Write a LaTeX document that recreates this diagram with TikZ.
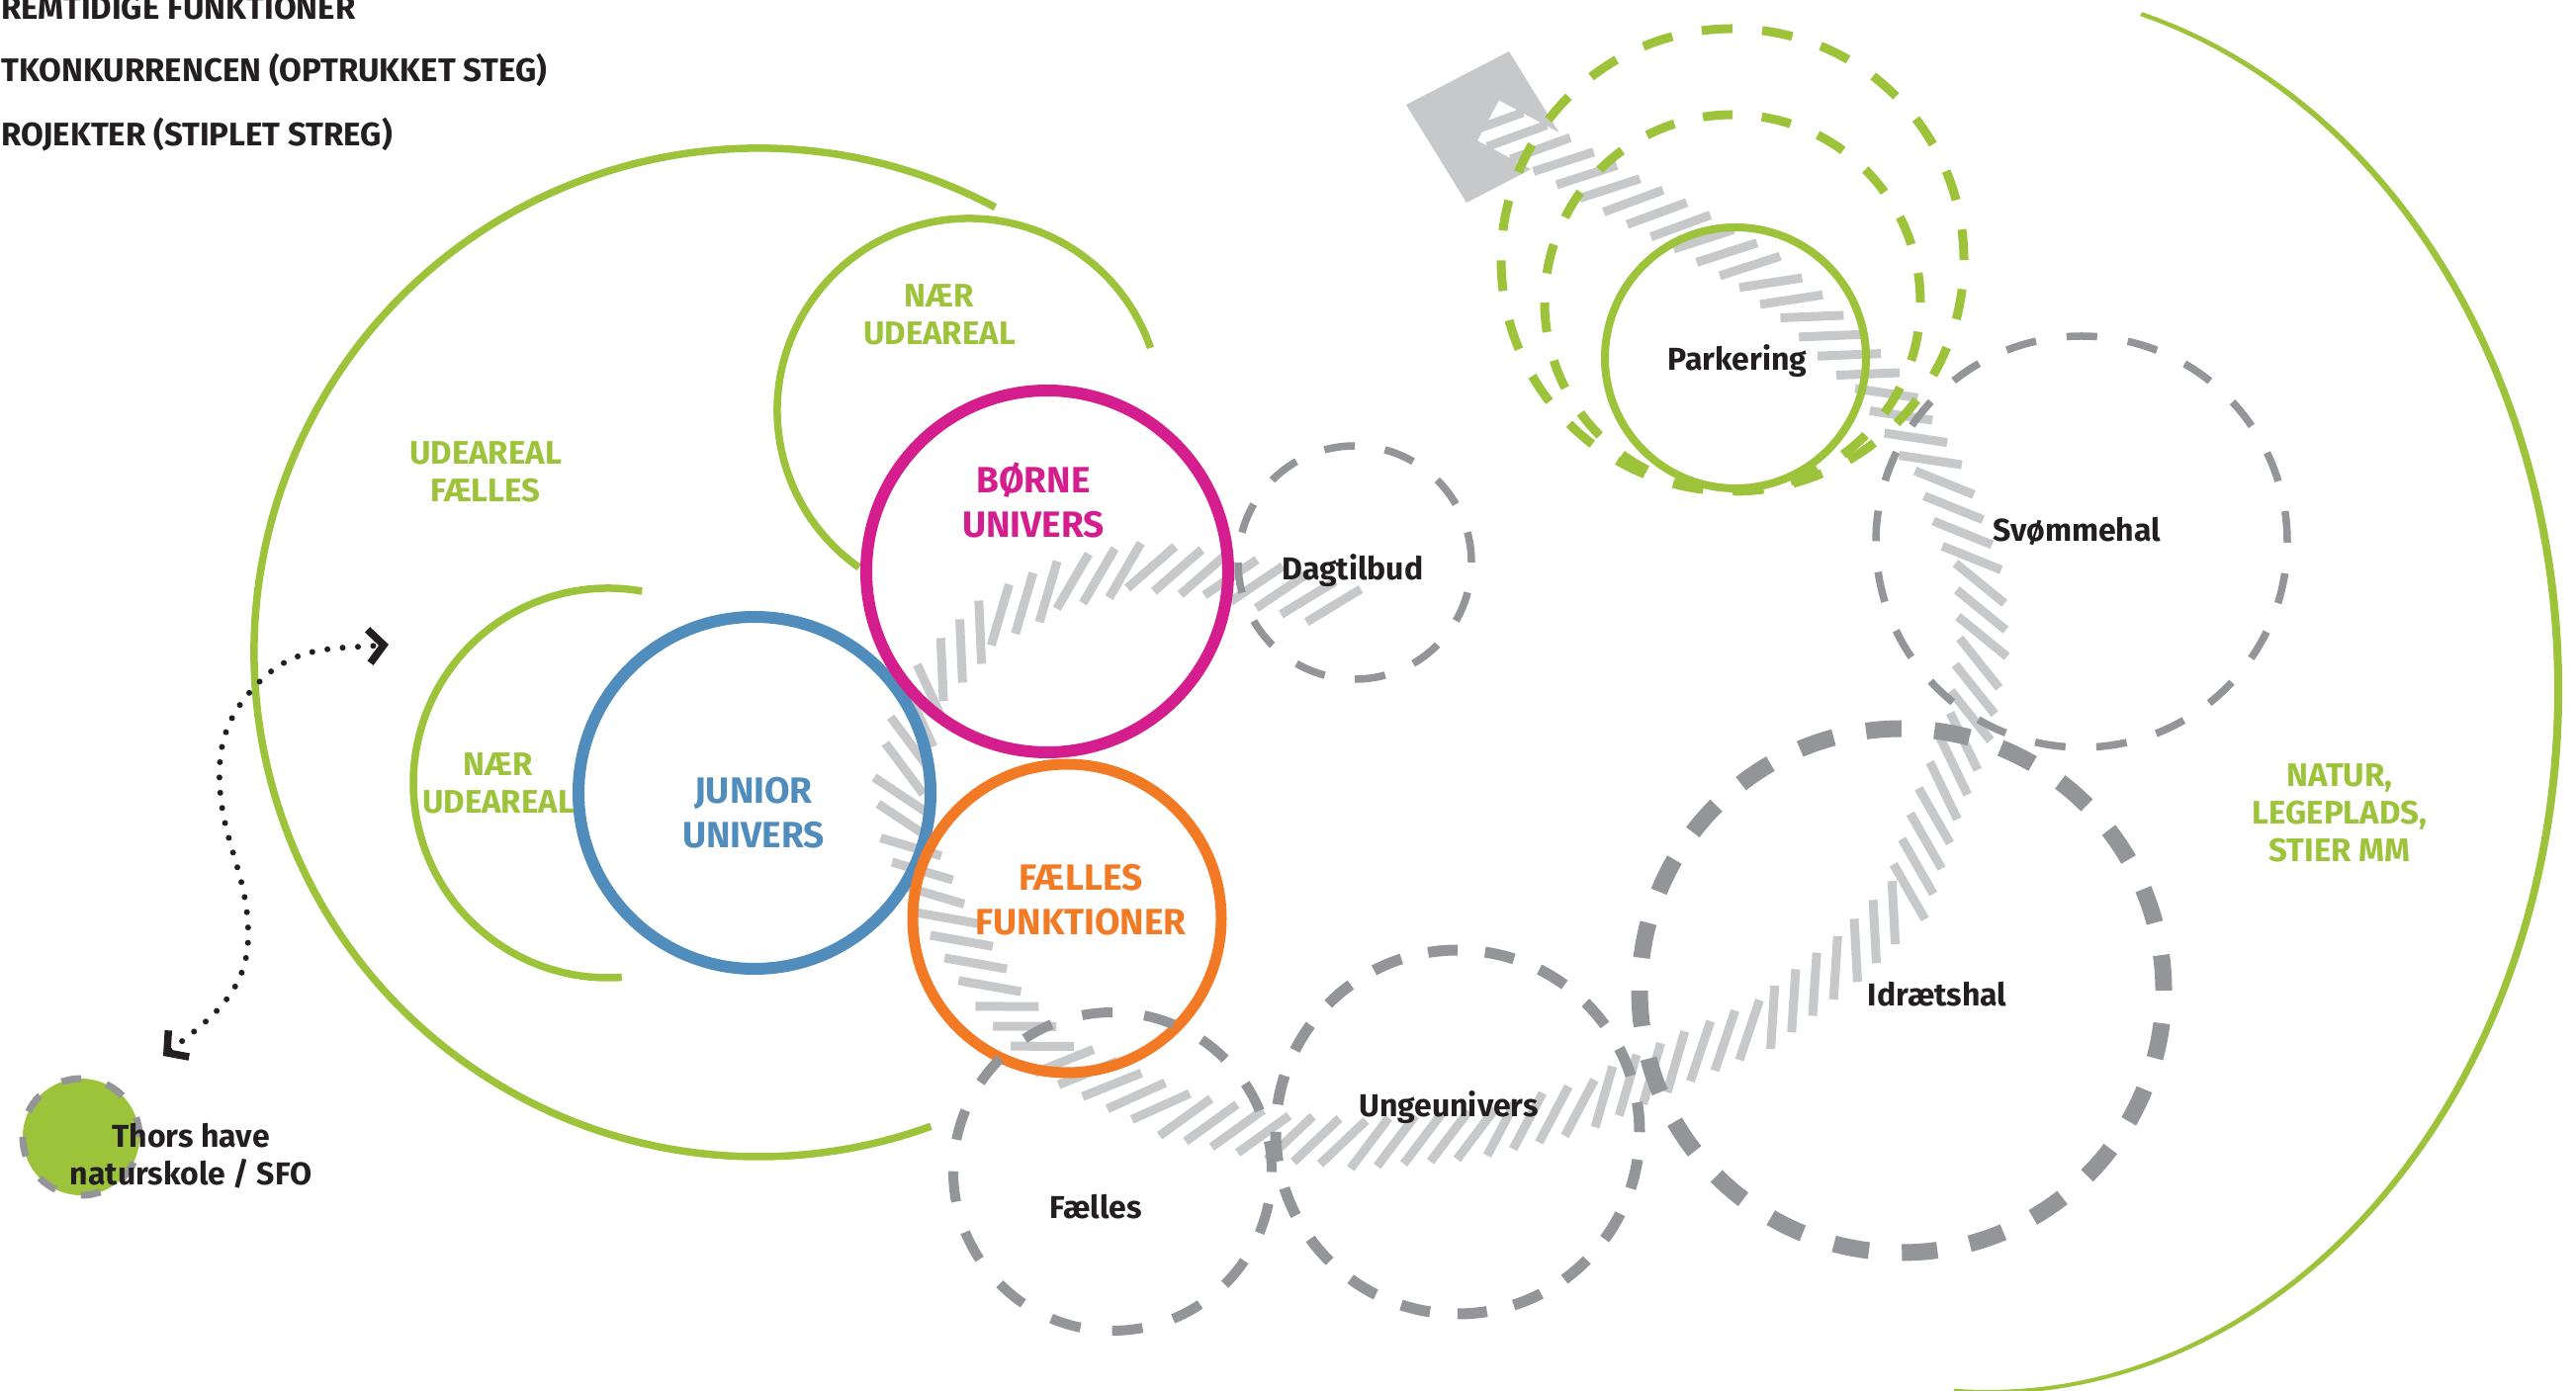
\documentclass[tikz,border=0pt]{standalone}
\usepackage{fontspec}
\setmainfont{Fira Sans}
\usetikzlibrary{arrows.meta,decorations.markings,calc}

\definecolor{leafgreen}{RGB}{157,195,59}
\definecolor{borneviolet}{RGB}{213,30,142}
\definecolor{juniorblue}{RGB}{80,141,188}
\definecolor{faellesorange}{RGB}{242,122,36}
\definecolor{ringgray}{RGB}{147,149,152}
\definecolor{bargray}{RGB}{199,200,202}
\definecolor{inkblack}{RGB}{35,31,32}

\tikzstyle{every node}=[inner sep=0pt,text=inkblack]
\tikzset{
  ring/.style={circle,draw=#1,minimum size=0pt},
  greenline/.style={draw=leafgreen,line width=7.5pt},
  bigzone/.style={font=\bfseries\fontsize{37}{45}\selectfont,align=center},
  greenzone/.style={font=\bfseries\fontsize{33}{38}\selectfont,align=center,text=leafgreen},
  place/.style={font=\bfseries\fontsize{32}{38}\selectfont,anchor=base},
  legend/.style={font=\bfseries\fontsize{33}{38}\selectfont,anchor=base west},
  dotway/.style={draw=inkblack,line width=6pt,line cap=round,dash pattern=on 0pt off 15.5pt},
  barb/.tip={Straight Barb[length=15pt,width=34pt,line width=7.5pt]},
  hatch/.style={postaction={decorate,decoration={markings,
      mark=between positions 0.002 and 0.998 step 2.7pt with
      {\draw[bargray,line width=0.9pt] (-2.14pt,-2.38pt) -- (2.14pt,2.38pt);}}}}
}

\begin{document}
\begin{tikzpicture}[x=1pt,y=1pt]
\useasboundingbox (0,0) rectangle (2605,1406);
\fill[white] (0,0) rectangle (2605,1406);

% parking lot and the path through the site
\fill[bargray] (1422,1300) -- (1526,1354) -- (1587,1255) -- (1483,1201) -- cycle;
\begin{scope}[transform canvas={scale=10},x=0.1pt,y=0.1pt]
\coordinate (bandS) at (1505,1284);
\coordinate (bandE) at (1370,787);
\draw[white,line width=4.6pt,hatch] (bandS)
  -- (1561,1254) -- (1630,1214) -- (1702,1176) -- (1771,1136) -- (1832,1086) -- (1907,1009)
  -- (1965,921) -- (2002,819) -- (2005,756) -- (1990,666) -- (1960,593) -- (1928,496) -- (1870,438)
  -- (1785,371) -- (1697,333) -- (1600,286) -- (1493,259) -- (1377,249) -- (1290,256) -- (1198,276)
  -- (1130,306) -- (1061,340) -- (1003,405) -- (947,495) -- (917,558) -- (910,606) -- (920,656)
  -- (950,726) -- (1007,782) -- (1080,817) -- (1157,833) -- (1240,823) -- (1300,808) -- (bandE);
\end{scope}

% outdoor areas
\coordinate (udeC) at (767,746);
\draw[greenline] (udeC) ++(62:510) arc[start angle=62,end angle=290,radius=510];
\coordinate (naerC) at (980,991);
\draw[greenline] (naerC) ++(19:194) arc[start angle=19,end angle=235,radius=194];
\coordinate (naerlC) at (615,614);
\draw[greenline] (naerlC) ++(80:197) arc[start angle=80,end angle=274,radius=197];

% present functions
\node[ring=juniorblue,line width=12pt,minimum size=356pt] (junior) at (763,604) {};
\node[ring=borneviolet,line width=12pt,minimum size=366pt] (borne) at (1059,828) {};
\node[ring=faellesorange,line width=11pt,minimum size=312pt] (funktioner) at (1079,477) {};

% future projects
\node[ring=ringgray,line width=7.5pt,dash pattern=on 31pt off 30.8pt,minimum size=236pt] (dagtilbud) at (1370,837) {};
\node[ring=ringgray,line width=7.5pt,dash pattern=on 31pt off 31.2pt,minimum size=416pt] (svommehal) at (2105,858) {};
\node[ring=ringgray,line width=17pt,dash pattern=on 36pt off 33.4pt,minimum size=530pt] (idraetshal) at (1923,404) {};
\node[ring=ringgray,line width=11pt,dash pattern=on 30pt off 27.8pt,minimum size=368pt] (ungeunivers) at (1474,261) {};
\node[ring=ringgray,line width=10pt,dash pattern=on 31pt off 32.2pt,minimum size=322pt] (faelles) at (1125,221) {};

\node[ring=leafgreen,line width=9pt,dash pattern=on 31pt off 30.3pt,minimum size=468pt] (parkout) at (1752,1143) {};
\node[ring=leafgreen,line width=9pt,dash pattern=on 30pt off 29.7pt,minimum size=380pt] (parkmid) at (1752,1100) {};
\node[ring=leafgreen,line width=8pt,minimum size=264pt] (parkering) at (1755,1044) {};

\node[ring=ringgray,fill=leafgreen,line width=7pt,dash pattern=on 20pt off 26.3pt,minimum size=118pt] (thors) at (82,256) {};

\coordinate (naturC) at (2010,708);
\fill[leafgreen] (naturC) ++(74.4:581 and 712) arc[start angle=74.4,end angle=-93.4,x radius=581,y radius=712]
  -- ($(naturC)+(-93.4:573 and 708)$) arc[start angle=-93.4,end angle=74.4,x radius=573,y radius=708] -- cycle;

\coordinate (thorsend) at (165,338);
\coordinate (udeend) at (393,754);
\draw[dotway,{barb}-{barb}] (thorsend) to[out=38,in=-90] (251,460) to[out=90,in=-88] (222,616)
  to[out=92,in=-135] (263,717) to[out=45,in=185] (udeend);

% texts
\node[legend] (legendA) at (1,1386) {REMTIDIGE FUNKTIONER};
\node[legend] (legendB) at (1,1323) {TKONKURRENCEN (OPTRUKKET STEG)};
\node[legend] (legendC) at (1,1258) {ROJEKTER (STIPLET STREG)};

\node[bigzone,text=borneviolet] (borneT) at (1045,900) {BØRNE\\UNIVERS};
\node[bigzone,text=juniorblue] (juniorT) at (762,584) {JUNIOR\\UNIVERS};
\node[bigzone,text=faellesorange] (funktionerT) at (1093,496) {FÆLLES\\FUNKTIONER};
\node[greenzone] (naerT) at (950,1088) {NÆR\\UDEAREAL};
\node[greenzone] (udeT) at (491,929) {UDEAREAL\\FÆLLES};
\node[greenzone] (naerlT) at (504,614) {NÆR\\UDEAREAL};
\node[greenzone] (naturT) at (2366,584) {NATUR,\\LEGEPLADS,\\STIER MM};

\node[place] (parkeringT) at (1757,1031) {Parkering};
\node[place] (dagtilbudT) at (1368,819) {Dagtilbud};
\node[place] (svommehalT) at (2100,858) {Svømmehal};
\node[place] (idraetshalT) at (1959,388) {Idrætshal};
\node[place] (ungeuniversT) at (1465,276) {Ungeunivers};
\node[place] (faellesT) at (1108,173) {Fælles};
\node[font=\bfseries\fontsize{32}{38}\selectfont,align=center] (thorsT) at (193,237) {Thors have\\naturskole / SFO};
\end{tikzpicture}
\end{document}
